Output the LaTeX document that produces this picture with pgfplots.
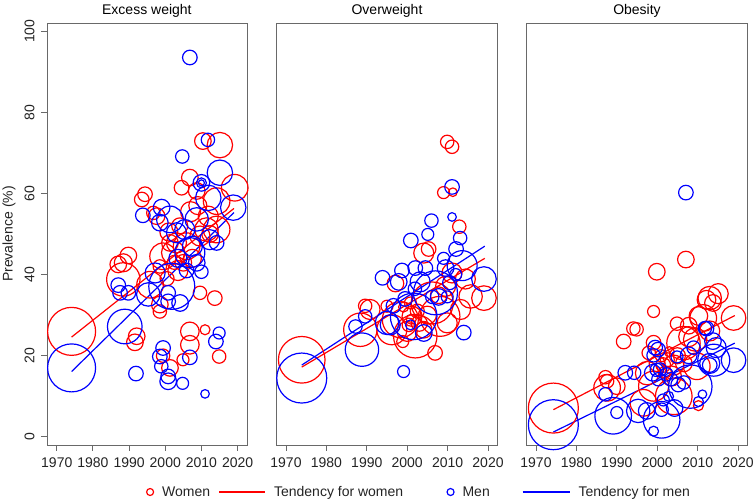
\documentclass[border=0pt]{standalone}
\usepackage{pgfplots}
\pgfplotsset{compat=1.18}
\usepackage{fontspec}
\setmainfont{Liberation Sans}

\definecolor{wom}{RGB}{255,0,0}
\definecolor{men}{RGB}{0,0,255}
\definecolor{frame}{RGB}{105,105,105}
\definecolor{lab}{RGB}{35,35,35}
\newcommand{\fs}{\fontsize{14}{16}\selectfont}

\pgfplotsset{
  panel/.style={
    scale only axis, height=422pt, anchor=south west,
    ymin=-2, ymax=102,
    xtick={1970,1980,...,2020}, ytick={0,20,...,100},
    tick align=outside, major tick length=6pt,
    xtick pos=bottom, ytick pos=left,
    axis line style={frame, line width=0.9pt},
    tick style={frame, line width=0.9pt},
    tick label style={font=\fs, text=lab},
    xticklabel shift=3pt, yticklabel shift=3pt,
    /pgf/number format/assume math mode=true,
    /pgf/number format/1000 sep={},
  },
  bub/.style={scatter, only marks, mark=o, line width=1.2pt, forget plot,
    scatter/use mapped color={draw=#1, fill=none},
    visualization depends on={\thisrow{r}\as\rad},
    scatter/@pre marker code/.append style={/tikz/mark size=\rad}},
  trend/.style={#1, line width=1.2pt, no marks, forget plot},
}

\begin{document}
\begin{tikzpicture}
\useasboundingbox (0,0) rectangle (755pt,500pt);

% ---------- Excess weight ----------
\begin{axis}[panel, at={(47pt,55pt)}, width=200pt,
  xmin=1967.3, xmax=2022.6,
  yticklabel style={rotate=90, anchor=south}]
\addplot[bub=wom] table {
x y r
1974.1 26.0 24
1988.4 38.8 16.7
1987.0 42.5 8.3
1988.4 42.9 9
1989.8 44.7 8.3
1991.6 23.3 8.3
1992.1 24.8 8.3
1993.5 58.5 7.3
1994.4 59.8 7.3
1995.8 37.5 13.3
1996.7 55.2 6.7
1997.6 54.4 8.3
1998.5 32.6 8.3
1998.5 30.9 6.7
1999.4 20.0 6.7
2001.3 17.0 8.3
2004.9 19.0 6
2006.8 26.0 9.3
2006.8 22.7 9.3
2011.0 26.4 5
2014.9 19.8 6.7
2009.6 35.5 6.7
2013.7 34.2 7.3
2004.5 61.4 7.3
2006.8 63.9 8.3
2008.7 60.6 8.3
2010.4 72.9 8.3
2015.1 71.9 12.7
2019.2 61.4 13.3
2014.2 58.1 13.3
2011.9 54.4 10
2014.2 51.1 13.3
2011.4 51.1 11.7
2003.1 47.8 10
1999.4 44.5 13.3
2002.2 45.4 11.7
2005.9 47.0 13.3
2001.3 47.8 8.3
1998.5 42.0 6.7
2005.0 42.9 8.3
2009.6 49.5 10
2012.4 50.0 8.3
2003.5 41.0 10
2007.5 44.0 9
2000.5 39.0 7
2001.0 50.5 9
2004.0 52.0 8
2007.0 55.5 10
2009.0 57.0 9
2002.5 43.0 7
};
\addplot[bub=men] table {
x y r
1974.1 17.0 24
1988.8 27.2 17.3
1987.0 37.4 7.3
1987.5 35.5 7.3
1989.8 35.5 7.3
1991.9 15.6 7.3
1995.3 35.1 11.7
2001.8 37.1 23
2000.8 35.5 7.3
2000.8 33.4 7.3
2004.1 33.0 8.3
1999.4 21.9 7.3
1998.5 19.8 7.3
1998.9 17.4 6.7
2000.8 14.9 7.3
2000.8 13.7 8.3
2004.8 13.2 6
2011.0 10.6 4.3
2006.8 19.6 7.3
2014.9 25.6 6
2014.0 23.5 7.3
1997.2 40.4 10
2008.7 42.9 8.3
2010.0 40.7 6.7
2005.9 41.0 7.3
2006.8 45.4 15
2003.5 44.0 9
2007.5 47.0 10
2012.3 48.6 10
2014.2 47.8 7.3
2003.1 50.3 10
1998.5 52.8 8.3
1999.0 56.5 8.3
2001.3 53.6 13.3
2008.7 53.6 11.7
2005.4 51.1 10
1993.8 54.6 7.3
2010.0 62.6 8.3
2010.0 62.6 5
2010.0 62.6 3
2011.9 58.9 12.7
2015.1 65.1 12.7
2018.8 56.5 12.7
2011.8 73.2 6.7
2004.7 69.1 6.7
2006.8 93.5 7.3
};
\addplot[trend=wom] coordinates {(1974.1,24.6) (2019,56.3)};
\addplot[trend=men] coordinates {(1974.1,16.1) (2019,55.3)};
\end{axis}

% ---------- Overweight ----------
\begin{axis}[panel, at={(276.7pt,55pt)}, width=220.6pt,
  xmin=1967.7, xmax=2022.3, ytick=\empty,
  legend columns=4,
  legend style={at={(-0.5925,-0.1114)}, anchor=west, draw=none, fill=none,
    inner sep=0pt, outer sep=0pt, column sep=0pt,
    nodes={inner sep=0pt, font=\fs, text=lab}},
  legend cell align=left]
\addplot[bub=wom] table {
x y r
1973.9 19.0 23.3
1988.4 26.4 16.7
1989.6 32.3 6.7
1990.8 31.4 10
1995.0 32.2 6
1996.2 26.4 15
1997.1 37.8 8.3
1998.3 28.9 18
1998.9 23.5 6
1999.1 32.0 5
2000.8 33.0 6
2001.2 29.7 10
2001.0 29.0 5
2000.4 27.6 6.7
2000.0 26.0 10
2002.0 24.8 21.7
2002.5 31.0 7
2003.0 28.0 8
2004.1 26.4 8.3
2004.1 45.3 10
2005.3 46.3 7.3
2006.2 33.0 21
2005.0 30.0 9
2006.9 20.7 7.3
2007.8 34.9 8.3
2008.1 29.7 20
2009.9 28.1 10
2009.5 37.1 10
2009.0 60.2 6
2009.9 72.7 6.7
2011.1 71.5 6.7
2011.3 60.3 4.3
2011.1 40.4 10
2013.2 31.4 10
2012.9 51.8 6.7
2014.4 38.9 10
2015.7 34.6 11.7
2019.0 34.2 12.3
};
\addplot[bub=men] table {
x y r
1973.9 14.5 25
1987.2 27.2 6.7
1988.8 21.5 16.7
1989.6 29.7 6.7
1993.9 39.2 7.3
1995.0 28.1 11.7
1995.8 27.6 10
1996.6 32.3 7.3
1997.9 38.2 8.3
1998.7 41.0 7.3
1999.1 16.1 6
1999.5 34.0 7.3
2000.8 27.6 5
2000.9 48.4 7.3
2001.6 29.7 23.3
2001.9 36.5 6.7
2002.0 41.6 7.3
2003.2 38.2 10
2004.1 25.6 8.3
2004.5 41.6 7.3
2005.1 49.9 6
2006.0 53.3 6.7
2006.2 34.5 6.7
2007.0 35.5 22
2007.8 34.5 8.3
2009.0 44.0 6
2009.5 41.6 8.3
2009.9 34.5 6
2010.5 38.0 7
2011.1 61.6 7.3
2011.1 54.2 4.3
2012.0 40.0 6
2012.1 46.3 7.3
2013.1 49.0 6.7
2013.6 42.2 15
2014.0 25.7 7.3
2019.0 38.9 12.3
};
\addplot[trend=wom] coordinates {(1973.9,17.2) (2019.2,44.0)};
\addplot[trend=men] coordinates {(1973.9,17.7) (2019.2,47.0)};

\addlegendimage{legend image code/.code={\path[draw=none,fill=none] (-4pt,-5pt) rectangle (12pt,5pt); \draw[wom, line width=1.2pt] (0pt,0pt) circle[radius=3.5pt];}}
\addlegendentry{Women}
\addlegendimage{legend image code/.code={\path[draw=none,fill=none] (-9pt,-5pt) rectangle (55pt,5pt); \draw[wom, line width=1.2pt] (0pt,0pt) -- (46pt,0pt);}}
\addlegendentry{Tendency for women}
\addlegendimage{legend image code/.code={\path[draw=none,fill=none] (-47.3pt,-5pt) rectangle (12pt,5pt); \draw[men, line width=1.2pt] (0pt,0pt) circle[radius=3.5pt];}}
\addlegendentry{Men}
\addlegendimage{legend image code/.code={\path[draw=none,fill=none] (-32.8pt,-5pt) rectangle (56pt,5pt); \draw[men, line width=1.2pt] (0pt,0pt) -- (47pt,0pt);}}
\addlegendentry{Tendency for men}
\end{axis}

% ---------- Obesity ----------
\begin{axis}[panel, at={(526.7pt,55pt)}, width=220.6pt,
  xmin=1967.7, xmax=2022.3, ytick=\empty]
\addplot[bub=wom] table {
x y r
1974.3 7.1 25
1987.2 14.7 6.7
1987.6 13.7 6.7
1987.6 12.1 13.3
1990.0 12.5 8.3
1991.7 23.5 7.3
1994.1 26.7 6.7
1994.9 26.5 6.7
1996.6 8.4 13.3
1997.5 15.7 11.7
1997.9 20.7 6.7
1999.1 30.9 6
1999.1 23.2 7.3
1999.1 12.5 15
1999.9 40.7 8.3
2000.0 18.0 8
2001.0 20.0 6
2001.5 17.7 7.3
2002.0 16.0 6
2002.5 19.0 7
2003.0 21.0 5
2003.5 15.0 10
2004.1 17.7 10
2004.1 10.0 18.3
2005.0 20.0 8
2004.9 27.9 6.7
2006.5 23.1 16.7
2006.6 18.1 8.3
2007.1 43.7 8.3
2007.8 27.4 8.3
2007.8 24.7 10
2009.4 24.0 11.7
2009.8 17.4 13.3
2010.2 7.7 5
2010.2 29.8 9.3
2011.4 29.3 13.3
2012.2 33.8 9.3
2013.0 34.2 11.7
2013.0 26.1 10
2013.8 33.0 8.3
2015.1 35.3 10
2018.9 29.3 12.3
};
\addplot[bub=men] table {
x y r
1974.3 3.0 25
1987.2 10.5 6.7
1989.1 5.2 18.3
1990.0 6.0 6
1992.1 15.8 7.3
1994.3 15.8 6.7
1995.3 6.4 11.7
1997.4 6.4 8.3
1998.9 15.8 8.3
1999.1 20.1 6.7
1999.1 1.4 5
1999.5 22.0 7.3
1999.9 16.5 6.7
2000.2 21.5 7.3
2000.3 14.2 6.7
2000.7 16.6 6.7
2001.1 4.2 18.3
2001.1 6.7 6.7
2001.5 9.1 6
2002.3 15.4 6.7
2002.8 10.0 5
2003.4 14.2 6.7
2004.3 7.1 8.3
2004.9 19.7 6
2005.2 12.9 7.3
2006.6 13.4 6.7
2007.1 60.2 7.3
2007.8 20.1 8.3
2008.2 12.4 21.7
2009.0 22.0 6.7
2010.2 8.7 5
2011.2 10.5 4.3
2011.8 26.8 6.7
2012.2 26.7 7.3
2013.0 17.7 7.3
2013.0 18.1 10
2013.8 23.6 8.3
2014.0 18.9 16
2014.6 22.0 10
2018.9 18.9 12.3
};
\addplot[trend=wom] coordinates {(1974.3,6.7) (2019.2,29.9)};
\addplot[trend=men] coordinates {(1974.3,1.2) (2019.2,23.1)};
\end{axis}

\node[font=\fs] at (146.9pt,489pt) {Excess weight};
\node[font=\fs] at (387pt,489pt) {Overweight};
\node[font=\fs] at (637pt,489pt) {Obesity};
\node[font=\fs, text=lab, rotate=90] at (9pt,266pt) {Prevalence (\%)};
\end{tikzpicture}
\end{document}
